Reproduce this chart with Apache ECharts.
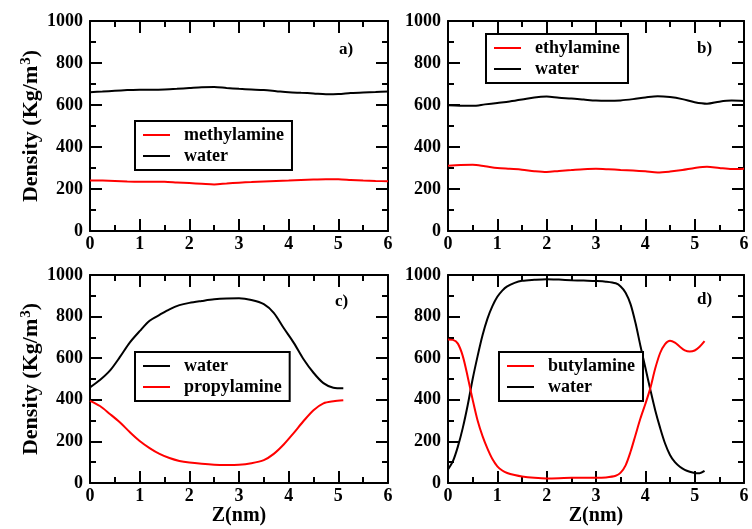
<!DOCTYPE html>
<html>
<head>
<meta charset="utf-8">
<script src="https://cdn.jsdelivr.net/npm/echarts@6/dist/echarts.min.js"></script>
<style>html,body{margin:0;padding:0;background:#fff}#c{width:752px;height:529px}</style>
</head>
<body>
<div id="c"></div>
<script>
// ---- data ----
const xTicks = [0, 1, 2, 3, 4, 5, 6];
const yTicks = [0, 200, 400, 600, 800, 1000];
const panelLabels = ['a)', 'b)', 'c)', 'd)'];

const zAB = [0,0.25,0.5,0.75,1,1.25,1.5,1.75,2,2.25,2.5,2.75,3,3.25,3.5,3.75,4,4.25,4.5,4.75,5,5.25,5.5,5.75,6];
const waterA = [661,664,668,671,673,673,674,677,681,685,686,681,677,674,671,666,661,658,655,651,652,657,660,662,664];
const methylamineA = [241,240,238,236,235,235,234,231,228,225,222,226,230,233,236,238,240,243,245,247,246,243,240,238,237];
const waterB = [599,597,596,603,610,617,626,636,640,634,631,626,621,620,622,628,636,642,638,628,613,606,616,621,619];
const ethylamineB = [311,314,315,308,300,296,292,285,281,286,290,294,296,294,291,288,284,279,283,290,300,306,300,295,297];

const zC = [0,0.2,0.4,0.6,0.8,1.0,1.2,1.4,1.6,1.8,2.0,2.25,2.5,2.75,3.0,3.25,3.5,3.7,3.9,4.1,4.3,4.5,4.7,4.9,5.1];
const waterC = [460,495,540,605,675,730,780,808,835,855,866,875,883,887,888,880,860,818,745,675,595,530,480,458,455];
const propylamineC = [395,370,332,292,245,202,168,140,120,106,98,92,88,87,88,95,110,140,185,240,298,350,383,393,398];

const zD = [0,0.1,0.2,0.3,0.4,0.5,0.6,0.7,0.8,0.9,1.0,1.1,1.2,1.35,1.5,1.75,2.0,2.25,2.5,2.75,3.0,3.2,3.4,3.5,3.6,3.7,3.8,3.9,4.0,4.1,4.2,4.3,4.4,4.5,4.6,4.7,4.8,4.9,5.0,5.1,5.2];
const waterD = [65,105,175,265,375,500,610,710,790,850,895,925,945,962,972,977,980,978,975,973,971,968,960,945,915,860,770,660,555,450,350,265,190,135,100,78,63,54,48,47,58];
const butylamineD = [690,688,670,610,510,400,300,225,165,115,80,60,48,38,31,25,22,23,25,25,25,27,35,50,85,150,230,310,380,455,550,625,668,684,675,655,638,632,637,655,682];

// ---- helpers ----
const FF = 'Liberation Serif';
const pairs = (xs, ys) => xs.map((x, i) => [x, ys[i]]);
const grids = [
  {left: 90, top: 21, width: 298, height: 210},
  {left: 448, top: 21, width: 296, height: 210},
  {left: 90, top: 275, width: 298, height: 208},
  {left: 448, top: 275, width: 296, height: 208}
];
const lineCol = '#000';
function xAx(g, pos, labels, name) {
  return {
    type: 'value', gridIndex: g, position: pos, min: xTicks[0], max: xTicks[xTicks.length - 1], interval: 1,
    axisLine: {show: true, onZero: false, lineStyle: {color: lineCol, width: 2}},
    axisTick: {show: true, inside: true, length: 12, lineStyle: {color: lineCol, width: 2}},
    minorTick: {show: true, splitNumber: 2, length: 6, lineStyle: {color: lineCol, width: 2}},
    splitLine: {show: false},
    axisLabel: {show: labels, margin: 4, fontFamily: FF, fontWeight: 'bold', fontSize: 18, color: '#000',
      formatter: v => String(v)},
    name: name || '', nameLocation: 'middle', nameGap: 23,
    nameTextStyle: {fontFamily: FF, fontWeight: 'bold', fontSize: 20, color: '#000'}
  };
}
function yAx(g, pos, labels, withName) {
  return {
    type: 'value', gridIndex: g, position: pos, min: yTicks[0], max: yTicks[yTicks.length - 1], interval: 200,
    axisLine: {show: true, onZero: false, lineStyle: {color: lineCol, width: 2}},
    axisTick: {show: true, inside: true, length: 12, lineStyle: {color: lineCol, width: 2}},
    minorTick: {show: true, splitNumber: 2, length: 6, lineStyle: {color: lineCol, width: 2}},
    splitLine: {show: false},
    axisLabel: {show: labels, margin: 7, fontFamily: FF, fontWeight: 'bold', fontSize: 18, color: '#000',
      formatter: v => String(v)},
    name: withName ? '{a|Density (Kg/m}{s|3}{a|)}' : '',
    nameLocation: 'middle', nameGap: 47, nameRotate: 90,
    nameTextStyle: {
      fontFamily: FF, fontWeight: 'bold', fontSize: 22, color: '#000',
      rich: {
        a: {fontFamily: FF, fontWeight: 'bold', fontSize: 22, color: '#000'},
        s: {fontFamily: FF, fontWeight: 'bold', fontSize: 15, color: '#000', verticalAlign: 'top', padding: [0, 0, 9, 1]}
      }
    }
  };
}
function ser(name, xs, ys, g, color) {
  return {
    type: 'line', name: name, xAxisIndex: g, yAxisIndex: g, data: pairs(xs, ys),
    showSymbol: false, symbol: 'none', smooth: 0.3, color: color,
    lineStyle: {color: color, width: 2}, silent: true, animation: false
  };
}
function leg(names, left, top) {
  return {
    data: names, left: left, top: top, orient: 'vertical', icon: 'rect', selectedMode: false,
    itemWidth: 27, itemHeight: 2, itemGap: 3, padding: [5, 8, 5, 8],
    borderColor: '#000', borderWidth: 2, backgroundColor: '#fff',
    textStyle: {fontFamily: FF, fontWeight: 'bold', fontSize: 18, color: '#000', padding: [0, 0, 0, 9]}
  };
}
const RED = '#ff0000', BLACK = '#000000';
const labelPos = [[339, 41], [697, 40], [335, 293], [697, 291]];

const option = {
  animation: false,
  backgroundColor: '#fff',
  grid: grids,
  xAxis: [
    xAx(0, 'bottom', true), xAx(1, 'bottom', true), xAx(2, 'bottom', true, 'Z(nm)'), xAx(3, 'bottom', true, 'Z(nm)'),
    xAx(0, 'top', false), xAx(1, 'top', false), xAx(2, 'top', false), xAx(3, 'top', false)
  ],
  yAxis: [
    yAx(0, 'left', true, true), yAx(1, 'left', true, false), yAx(2, 'left', true, true), yAx(3, 'left', true, false),
    yAx(0, 'right', false, false), yAx(1, 'right', false, false), yAx(2, 'right', false, false), yAx(3, 'right', false, false)
  ],
  legend: [
    leg(['methylamine', 'water'], 135, 121),
    leg(['ethylamine', 'water'], 486, 34),
    leg(['water', 'propylamine'], 135, 352),
    leg(['butylamine', 'water'], 499, 352)
  ],
  series: [
    ser('water', zAB, waterA, 0, BLACK),
    ser('methylamine', zAB, methylamineA, 0, RED),
    ser('water', zAB, waterB, 1, BLACK),
    ser('ethylamine', zAB, ethylamineB, 1, RED),
    ser('water', zC, waterC, 2, BLACK),
    ser('propylamine', zC, propylamineC, 2, RED),
    ser('water', zD, waterD, 3, BLACK),
    ser('butylamine', zD, butylamineD, 3, RED)
  ],
  graphic: panelLabels.map((t, i) => ({
    type: 'text', left: labelPos[i][0], top: labelPos[i][1], z: 100,
    style: {text: t, font: 'bold 17px "Liberation Serif"', fill: '#000'}
  }))
};
const chart = echarts.init(document.getElementById('c'), null, {renderer: 'canvas'});
chart.setOption(option);
</script>
</body>
</html>
